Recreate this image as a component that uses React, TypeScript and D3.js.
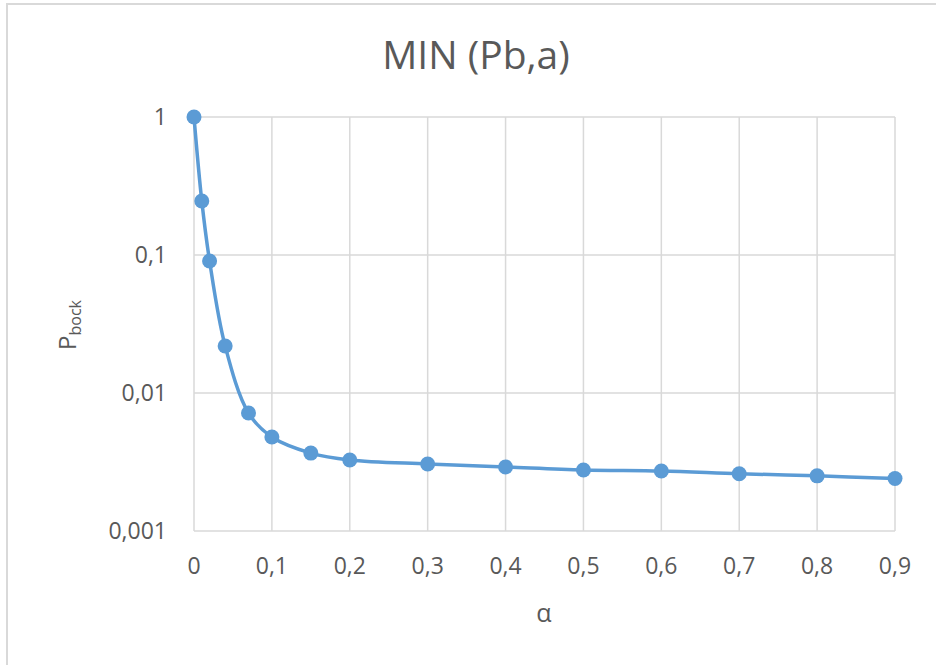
import React from "react";
import * as d3 from "d3";

const alphas = [0, 0.01, 0.02, 0.04, 0.07, 0.1, 0.15, 0.2, 0.3, 0.4, 0.5, 0.6, 0.7, 0.8, 0.9];
const pblock = [1, 0.246, 0.0905, 0.0219, 0.00716, 0.0048, 0.00367, 0.00327, 0.00306, 0.00291, 0.00277, 0.00272, 0.0026, 0.00251, 0.0024];
const xTicks = [0, 0.1, 0.2, 0.3, 0.4, 0.5, 0.6, 0.7, 0.8, 0.9];
const xTickLabels = ["0", "0,1", "0,2", "0,3", "0,4", "0,5", "0,6", "0,7", "0,8", "0,9"];
const yTicks = [1, 0.1, 0.01, 0.001];
const yTickLabels = ["1", "0,1", "0,01", "0,001"];
const title = "MIN (Pb,a)";

const W = 936, H = 665;
const left = 194, right = 895, top = 117, bottom = 531;
const FONT = "'Open Sans', 'Noto Sans', sans-serif";
const TXT = "#595959";
const GRID = "#d9d9d9";
const BLUE = "#5B9BD5";

export default function App() {
  const x = d3.scaleLinear().domain([0, 0.9]).range([left, right]);
  const y = d3.scaleLog().domain([0.001, 1]).range([bottom, top]);
  const pts: [number, number][] = alphas.map((a, i) => [x(a), y(pblock[i])]);
  const line = d3.line().curve(d3.curveCatmullRom.alpha(0.5))(pts) || "";
  return (
    <svg width={W} height={H} style={{ position: "absolute", left: 0, top: 0, background: "#fff" }}>
      <rect x={0} y={0} width={W} height={H} fill="#fff" />
      <line x1={7} x2={7} y1={3} y2={H} stroke={GRID} strokeWidth={2} />
      <line x1={6} x2={W} y1={4} y2={4} stroke={GRID} strokeWidth={2} />
      <text x={476} y={69} textAnchor="middle" fontFamily={FONT} fontSize={39} fill={TXT} letterSpacing={0}>{title}</text>
      {xTicks.map((t, i) => (
        <g key={"x" + i}>
          <line x1={x(t)} x2={x(t)} y1={top} y2={bottom} stroke={GRID} strokeWidth={1.5} />
          <text x={x(t)} y={574} textAnchor="middle" fontFamily={FONT} fontSize={23} fill={TXT}>{xTickLabels[i]}</text>
        </g>
      ))}
      {yTicks.map((t, i) => (
        <g key={"y" + i}>
          <line x1={left} x2={right} y1={y(t)} y2={y(t)} stroke={GRID} strokeWidth={1.5} />
          <text x={167} y={y(t) + 8} textAnchor="end" fontFamily={FONT} fontSize={23} fill={TXT}>{yTickLabels[i]}</text>
        </g>
      ))}
      <path d={line} fill="none" stroke={BLUE} strokeWidth={3.5} />
      {pts.map((p, i) => (
        <circle key={"c" + i} cx={p[0]} cy={p[1]} r={7.5} fill={BLUE} />
      ))}
      <text x={544} y={622} textAnchor="middle" fontFamily={FONT} fontSize={25} fill={TXT}>α</text>
      <text transform="translate(76,325) rotate(-90)" textAnchor="middle" fontFamily={FONT} fontSize={24} fill={TXT}>
        P<tspan fontSize={16} dy={5}>bock</tspan>
      </text>
    </svg>
  );
}
